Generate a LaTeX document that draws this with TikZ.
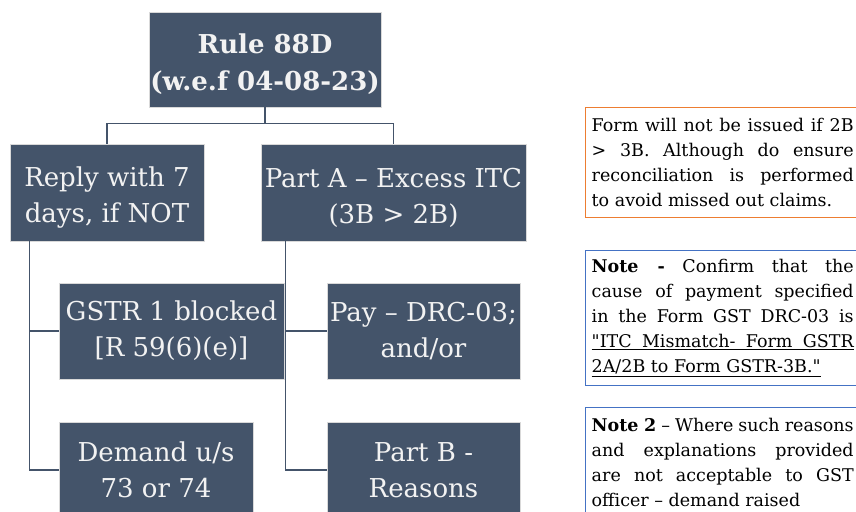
\documentclass[tikz,border=0pt]{standalone}
\usepackage{fontspec}
\setmainfont{DejaVu Serif}[Ligatures=TeXOff]
\usepackage{xcolor}
\usepackage{tikz}
\usetikzlibrary{calc, positioning}

\definecolor{hopxanh}{HTML}{44546A}
\definecolor{vien}{HTML}{D9D9D9}
\definecolor{cam}{HTML}{ED7D31}
\definecolor{lam}{HTML}{4472C4}
% dòng gạch chân giãn đủ bề rộng
\newcommand{\gachdong}[1]{\underline{\makebox[262pt][s]{#1}}}
% đẩy chữ xuống một chút
\newcommand{\hadong}{\rule{0pt}{30pt}}

\begin{document}
\begin{tikzpicture}[x=1pt, y=-1pt,
    hop/.style={fill=hopxanh, draw=vien, line width=0.8pt, text=white!95!black,
        align=center, inner sep=0pt, font=\fontsize{26}{36}\selectfont},
    ghichu/.style={line width=1.4pt, fill=white, anchor=north west,
        text width=262pt, align=justify, inner xsep=6pt, inner ysep=9pt,
        font=\fontsize{17.5}{25}\selectfont},
    noi/.style={draw=hopxanh, line width=1.2pt}]
    \useasboundingbox (0,0) rectangle (856,511);

    % Hộp gốc
    \node[hop, minimum width=232pt, minimum height=95pt, font=\bfseries\fontsize{26}{37}\selectfont]
        (rule) at (265,59.5) {\hadong Rule 88D\\(w.e.f 04-08-23)};

    % Hai nhánh chính
    \node[hop, minimum width=194pt, minimum height=97pt] (reply) at (107,192.5)
        {\hadong Reply with 7\\days, if NOT};
    \node[hop, minimum width=265pt, minimum height=97pt] (partA) at (393.5,192.5)
        {\hadong Part A – Excess ITC\\(3B > 2B)};

    % Nhánh con bên trái
    \node[hop, minimum width=225pt, minimum height=96pt] (gstr) at (171.5,331)
        {GSTR 1 blocked\\{[}R 59(6)(e)]};
    \node[hop, minimum width=194pt, minimum height=96pt] (demand) at (156,470)
        {Demand u/s\\73 or 74};

    % Nhánh con bên phải
    \node[hop, minimum width=193pt, minimum height=96pt] (pay) at (423.5,331)
        {Pay – DRC-03;\\and/or};
    \node[hop, minimum width=193pt, minimum height=96pt] (partB) at (423.5,470)
        {Part B -\\Reasons};

    % Nét nối
    \draw[noi] (rule.south) -- ++(0,16) -| (reply.north);
    \draw[noi] (rule.south) -- ++(0,16) -| (partA.north);
    \draw[noi] ([xshift=20pt]reply.south west) |- (gstr.west);
    \draw[noi] ([xshift=20pt]reply.south west) |- (demand.west);
    \draw[noi] ([xshift=25pt]partA.south west) |- (pay.west);
    \draw[noi] ([xshift=25pt]partA.south west) |- (partB.west);

    % Ghi chú bên phải
    \node[ghichu, draw=cam, minimum height=110pt] (note1) at (585,107)
        {Form will not be issued if 2B\linebreak
         > 3B. Although do ensure\linebreak
         reconciliation is performed\linebreak
         to avoid missed out claims.};
    \node[ghichu, draw=lam, minimum height=125pt] (note2) at (585,250)
        {\textbf{Note -} Confirm that the\linebreak
         cause of payment specified\linebreak
         in the Form GST DRC-03 is\linebreak
         \gachdong{"ITC Mismatch- Form GSTR}\linebreak
         \underline{2A/2B to Form GSTR-3B."}};
    \node[ghichu, draw=lam, inner ysep=10pt] (note3) at (585,407)
        {\textbf{Note 2} – Where such reasons\linebreak
         and explanations provided\linebreak
         are not acceptable to GST\linebreak
         officer – demand raised};
\end{tikzpicture}
\end{document}
